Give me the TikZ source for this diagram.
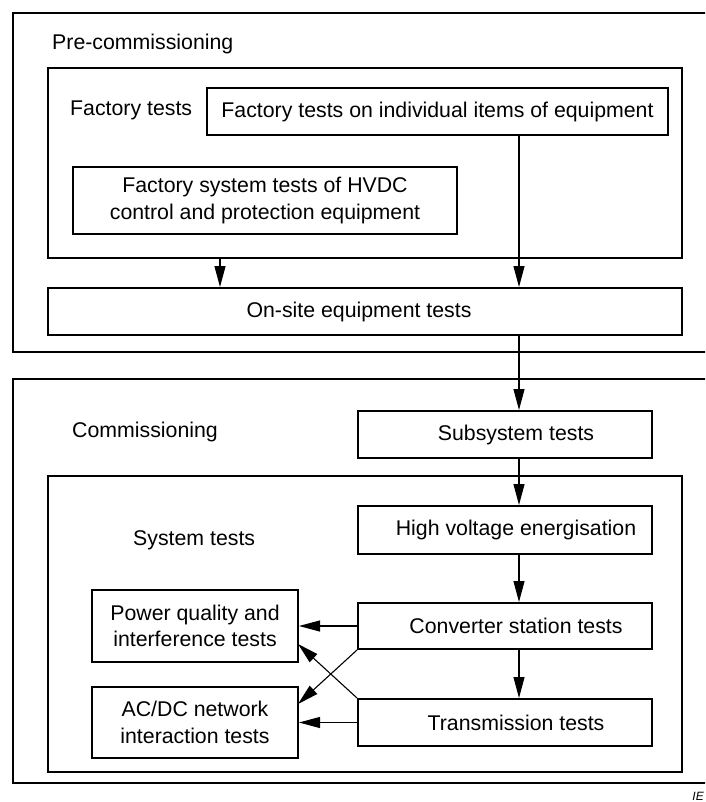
\documentclass[tikz,border=0pt]{standalone}
\usepackage{fontspec}
\setmainfont{Liberation Sans}
\usetikzlibrary{arrows.meta}
\tikzset{
  boxed/.style={draw, line width=2pt, align=center, inner sep=0pt, font=\fontsize{21.3}{26.5}\selectfont},
  lbl/.style={anchor=west, inner sep=0pt, font=\fontsize{21.3}{26.5}\selectfont},
  arr/.style={line width=1.1pt, -{Triangle[length=21pt,width=11pt]}},
  frame/.style={draw, line width=2pt},
}
\begin{document}
\begin{tikzpicture}[x=1pt,y=-1pt]
\useasboundingbox (0,0) rectangle (705,802);
\clip (0,0) rectangle (705,802);
% outer frames
\draw[frame] (13,13) rectangle (720,352);
\draw[frame] (13,379) rectangle (720,783);
\node[lbl] (pre) at (52,44) {Pre-commissioning};
\node[lbl] (com) at (72,432) {Commissioning};
% factory group
\node[frame, minimum width=634pt, minimum height=190pt, inner sep=0pt] (fgrp) at (365,163) {};
\node[lbl] (flbl) at (70,110) {Factory tests};
\node[boxed, minimum width=461pt, minimum height=47pt] (ind) at (437.5,111.5) {Factory tests on individual items of equipment};
\node[boxed, minimum width=384pt, minimum height=67pt] (fst) at (265,200.5) {Factory system tests of HVDC\\control and protection equipment};
\node[boxed, minimum width=634pt, minimum height=47pt] (onsite) at (365,311.5) {\hspace*{-12pt}On-site equipment tests};
% system group
\node[frame, minimum width=634pt, minimum height=296pt, inner sep=0pt] (sgrp) at (365,624) {};
\node[lbl] (slbl) at (133,540) {System tests};
\node[boxed, minimum width=294pt, minimum height=47pt] (sub) at (505,434.5) {\hspace*{22pt}Subsystem tests};
\node[boxed, minimum width=294pt, minimum height=48pt] (hv) at (505,530) {\hspace*{22pt}High voltage energisation};
\node[boxed, minimum width=294pt, minimum height=46pt] (conv) at (505,626) {\hspace*{22pt}Converter station tests};
\node[boxed, minimum width=294pt, minimum height=47pt] (trans) at (505,722.5) {\hspace*{22pt}Transmission tests};
\node[boxed, minimum width=206pt, minimum height=72pt] (pq) at (195,626) {Power quality and\\interference tests};
\node[boxed, minimum width=206pt, minimum height=71pt] (acdc) at (195,722.5) {AC/DC network\\interaction tests};
% arrows
\coordinate (xa) at (519,0);
\coordinate (xb) at (220,0);
\draw[arr] (xb |- fgrp.south) -- (xb |- onsite.north);
\draw[arr] (xa |- ind.south) -- (xa |- onsite.north);
\draw[arr] (xa |- onsite.south) -- (xa |- sub.north);
\draw[arr] (xa |- sub.south) -- (xa |- hv.north);
\draw[arr] (xa |- hv.south) -- (xa |- conv.north);
\draw[arr] (xa |- conv.south) -- (xa |- trans.north);
\draw[arr] (conv.west) -- (pq.east);
\draw[arr] (trans.west) -- (acdc.east);
\coordinate (pqin) at (298,644);
\coordinate (acin) at (298,704);
\draw[arr] (conv.south west) -- (acin);
\draw[arr] (trans.north west) -- (pqin);
\node[anchor=east, inner sep=0pt, font=\fontsize{12}{14}\selectfont\itshape] (iec) at (704,796) {IE};
\end{tikzpicture}
\end{document}
